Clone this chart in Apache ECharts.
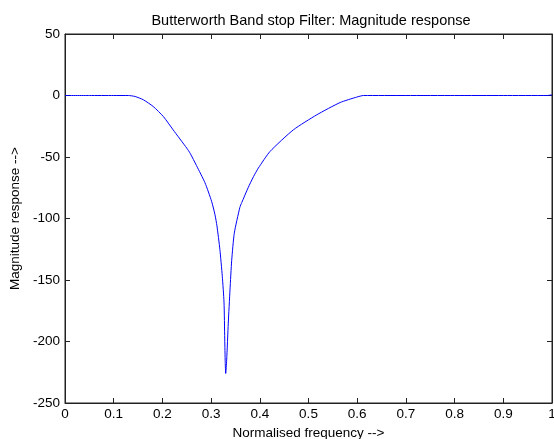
<!DOCTYPE html>
<html>
<head>
<meta charset="utf-8">
<script src="https://cdn.jsdelivr.net/npm/echarts@6/dist/echarts.min.js"></script>
<style>
  html, body { margin: 0; padding: 0; background: #fff; }
  #chart { width: 554px; height: 439px; }
</style>
</head>
<body>
<div id="chart"></div>
<script>
// normalised frequency / magnitude (dB)
const freq = [0, 0.05, 0.1, 0.13, 0.144, 0.161, 0.181, 0.202, 0.222, 0.25, 0.257, 0.27, 0.2875, 0.301, 0.308, 0.312, 0.318,
              0.323, 0.3265, 0.328, 0.329, 0.330, 0.332, 0.3353, 0.3388, 0.3423, 0.3476, 0.359, 0.363, 0.376, 0.387,
              0.397, 0.421, 0.469, 0.517, 0.565, 0.599, 0.613, 0.7, 0.8, 0.9, 0.99, 1]
const magnitude = [0, 0, 0, 0, -0.8, -3.5, -8.9, -17.1, -27.9, -42.8, -47, -57, -71, -86, -97, -106, -125,
                   -147, -168, -198, -217, -226, -215, -185, -158, -134, -112, -91, -87, -75, -66,
                   -59, -45.5, -27.9, -15.7, -5.7, -1.3, 0, 0, 0, 0, 0, 0.5]
const xTicks = [0, 0.1, 0.2, 0.3, 0.4, 0.5, 0.6, 0.7, 0.8, 0.9, 1]
const yTicks = [-250, -200, -150, -100, -50, 0, 50]

const font = 'Liberation Sans, Arial, sans-serif'
const frame = '#222'

const myChart = echarts.init(document.getElementById('chart'))

const boxAxis = {
    axisLine: { show: true, onZero: false, lineStyle: { color: frame, width: 1 } },
    axisTick: { show: true, inside: true, length: 5, lineStyle: { color: frame } },
    splitLine: { show: false },
}

const option = {
    animation: false,
    title: {
        text: 'Butterworth Band stop Filter: Magnitude response',
        left: 306,
        textAlign: 'center',
        top: 8,
        textStyle: { fontFamily: font, fontSize: 14.5, fontWeight: 'normal', color: '#000' }
    },
    grid: {
        left: 65, right: 2, top: 34, bottom: 36,
        outerBoundsMode: 'none',
        show: true, borderColor: frame, borderWidth: 1
    },
    xAxis: [
        {
            ...boxAxis,
            type: 'value',
            position: 'bottom',
            min: xTicks[0],
            max: xTicks[xTicks.length - 1],
            interval: 0.1,
            name: 'Normalised frequency -->',
            nameLocation: 'middle',
            nameGap: 21,
            nameTextStyle: { fontFamily: font, fontSize: 13.5, color: '#000' },
            axisLabel: {
                fontFamily: font, fontSize: 13.5, color: '#000', margin: 4,
                formatter: v => String(Math.round(v * 10) / 10)
            }
        },
        {
            ...boxAxis,
            type: 'value',
            position: 'top',
            min: xTicks[0],
            max: xTicks[xTicks.length - 1],
            interval: 0.1,
            axisLabel: { show: false }
        }
    ],
    yAxis: [
        {
            ...boxAxis,
            type: 'value',
            position: 'left',
            min: yTicks[0],
            max: yTicks[yTicks.length - 1],
            interval: 50,
            name: 'Magnitude response -->',
            nameLocation: 'middle',
            nameRotate: 90,
            nameGap: 42,
            nameTextStyle: { fontFamily: font, fontSize: 13.5, color: '#000' },
            axisLabel: { fontFamily: font, fontSize: 13.5, color: '#000', margin: 5 }
        },
        {
            ...boxAxis,
            type: 'value',
            position: 'right',
            min: yTicks[0],
            max: yTicks[yTicks.length - 1],
            interval: 50,
            axisLabel: { show: false }
        }
    ],
    series: [
        {
            type: 'line',
            data: freq.map((f, i) => [f, magnitude[i]]),
            showSymbol: false,
            smooth: 0.2,
            lineStyle: { color: '#0000ff', width: 1 }
        }
    ]
}

myChart.setOption(option)
</script>
</body>
</html>
